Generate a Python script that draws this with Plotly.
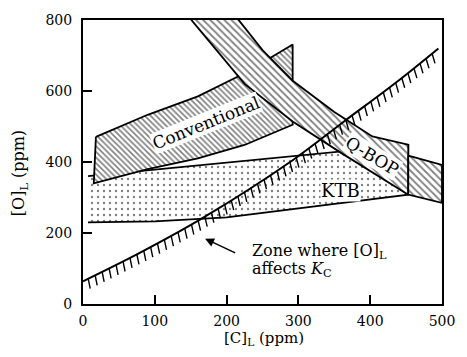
import numpy as np
import plotly.graph_objects as go

# ---------------- data ----------------
conv_top_c = [18, 90, 160, 225, 292]
conv_top_o = [471, 533, 585, 650, 731]
conv_bot_c = [15, 90, 160, 225, 292]
conv_bot_o = [340, 380, 410, 448, 505]

ktb_top_c = [7, 453]
ktb_top_o = [360, 448]
ktb_bot_c = [7, 100, 200, 300, 453]
ktb_bot_o = [230, 233, 244, 270, 308]

qbop_up_c = [205, 216, 250, 292, 350, 403, 453]
qbop_up_o = [850, 802, 715, 629, 541, 472, 449]
qbop_up2_c = [453, 500]
qbop_up2_o = [418, 392]
qbop_lo_c = [140, 151, 225, 292, 360, 453, 500]
qbop_lo_o = [850, 800, 620, 514, 425, 308, 285]

zone_c = [0, 79, 164, 292, 364, 436, 495]
zone_o = [64, 144, 239, 405, 515, 624, 720]

x_ticks = [0, 100, 200, 300, 400, 500]
y_ticks = [0, 200, 400, 600, 800]

FONT = "DejaVu Serif"

# plot-area geometry (pixels per unit) used for decoration ticks
L, R, T, B = 83, 14, 13, 53
W, H = 467, 357
sx = (W - L - R) / 500.0
sy = (H - T - B) / 800.0

fig = go.Figure()

# KTB box (dotted)
kx = ktb_top_c + [ktb_bot_c[-1]] + ktb_bot_c[::-1]
ky = ktb_top_o + [ktb_bot_o[-1]] + ktb_bot_o[::-1]
fig.add_trace(go.Scatter(x=kx, y=ky, mode="lines", fill="toself",
                         line=dict(color="black", width=1.8),
                         fillcolor="white",
                         fillpattern=dict(shape=".", size=6, solidity=0.12,
                                          fgcolor="black", bgcolor="white"),
                         hoverinfo="skip"))

# Conventional band
cx = conv_top_c + conv_bot_c[::-1] + [conv_top_c[0]]
cy = conv_top_o + conv_bot_o[::-1] + [conv_top_o[0]]
fig.add_trace(go.Scatter(x=cx, y=cy, mode="lines", fill="toself",
                         line=dict(color="black", width=1.8),
                         fillpattern=dict(shape="\\", size=4, solidity=0.4,
                                          fgcolor="black", bgcolor="white"),
                         hoverinfo="skip"))

# Q-BOP band (left part up to the vertical edge, then right part)
qx = qbop_up_c + qbop_lo_c[-2::-1] + [qbop_up_c[0]]
qy = qbop_up_o + qbop_lo_o[-2::-1] + [qbop_up_o[0]]
fig.add_trace(go.Scatter(x=qx, y=qy, mode="lines", fill="toself",
                         line=dict(color="black", width=1.8),
                         fillpattern=dict(shape="\\", size=5, solidity=0.35,
                                          fgcolor="black", bgcolor="white"),
                         hoverinfo="skip"))
q2x = qbop_up2_c + qbop_lo_c[-1:-3:-1] + [qbop_up2_c[0]]
q2y = qbop_up2_o + qbop_lo_o[-1:-3:-1] + [qbop_up2_o[0]]
fig.add_trace(go.Scatter(x=q2x, y=q2y, mode="lines", fill="toself",
                         line=dict(color="black", width=1.8),
                         fillpattern=dict(shape="\\", size=5, solidity=0.35,
                                          fgcolor="black", bgcolor="white"),
                         hoverinfo="skip"))

# Zone curve
fig.add_trace(go.Scatter(x=zone_c, y=zone_o, mode="lines",
                         line=dict(color="black", width=2, shape="spline"),
                         hoverinfo="skip"))

# hatch ticks hanging below the zone curve (decoration)
P = np.column_stack([np.array(zone_c) * sx, np.array(zone_o) * sy])
Pe = np.vstack([2 * P[0] - P[1], P, 2 * P[-1] - P[-2]])
dense = []
for i in range(1, len(Pe) - 2):
    p0, p1, p2, p3 = Pe[i - 1], Pe[i], Pe[i + 1], Pe[i + 2]
    for t in np.linspace(0, 1, 30, endpoint=False):
        t2, t3 = t * t, t * t * t
        dense.append(0.5 * ((2 * p1) + (-p0 + p2) * t +
                            (2 * p0 - 5 * p1 + 4 * p2 - p3) * t2 +
                            (-p0 + 3 * p1 - 3 * p2 + p3) * t3))
dense.append(P[-1])
dense = np.array(dense)
seg = np.hypot(*np.diff(dense, axis=0).T)
s = np.concatenate([[0], np.cumsum(seg)])
tx, ty = [], []
for sv in np.arange(6, s[-1] - 2, 8.0):
    j = np.searchsorted(s, sv) - 1
    j = max(0, min(j, len(seg) - 1))
    f = (sv - s[j]) / seg[j]
    pt = dense[j] + f * (dense[j + 1] - dense[j])
    tg = (dense[j + 1] - dense[j]) / seg[j]
    nrm = np.array([tg[1], -tg[0]])
    d = nrm + 1.3 * np.array([0.0, -1.0])
    d = d / np.hypot(*d) * 10.5
    e = pt + d
    tx += [pt[0] / sx, e[0] / sx, None]
    ty += [pt[1] / sy, e[1] / sy, None]
fig.add_trace(go.Scatter(x=tx, y=ty, mode="lines",
                         line=dict(color="black", width=1.4),
                         hoverinfo="skip"))

ann = []
ann.append(dict(x=171, y=511, xref="x", yref="y", text="Conventional",
                textangle=-22, showarrow=False, bgcolor="white", borderpad=0,
                font=dict(family=FONT, size=17, color="black")))
ann.append(dict(x=403, y=418, xref="x", yref="y", text="Q-BOP",
                textangle=31, showarrow=False, bgcolor="white", borderpad=0,
                font=dict(family=FONT, size=17, color="black")))
ann.append(dict(x=358, y=321, xref="x", yref="y", text="KTB",
                showarrow=False, bgcolor="white", borderpad=0,
                font=dict(family=FONT, size=18, color="black")))
ann.append(dict(x=232, y=148, xref="x", yref="y", xanchor="left",
                text="Zone where [O]<sub>L</sub>", showarrow=False,
                font=dict(family=FONT, size=16, color="black")))
ann.append(dict(x=232, y=96, xref="x", yref="y", xanchor="left",
                text="affects <i>K</i><sub>C</sub>", showarrow=False,
                font=dict(family=FONT, size=16, color="black")))
ann.append(dict(x=170, y=184, xref="x", yref="y", ax=214, ay=142,
                axref="x", ayref="y", text="", showarrow=True,
                arrowhead=2, arrowsize=1.2, arrowwidth=1.5, arrowcolor="black"))
ann.append(dict(x=0.505, y=-0.122, xref="paper", yref="paper",
                xanchor="center", yanchor="middle",
                text="[C]<sub>L</sub> (ppm)", showarrow=False,
                font=dict(family=FONT, size=15, color="black")))
ann.append(dict(x=-0.176, y=0.46, xref="paper", yref="paper",
                xanchor="center", yanchor="middle",
                text="[O]<sub>L</sub> (ppm)", textangle=-90, showarrow=False,
                font=dict(family=FONT, size=16, color="black")))

axis_common = dict(showline=True, linewidth=2, linecolor="black", mirror=True,
                   ticks="inside", ticklen=9, tickwidth=1.5, tickcolor="black",
                   showgrid=False, zeroline=False,
                   tickfont=dict(family=FONT, size=14, color="black"))

fig.update_layout(
    width=W, height=H,
    margin=dict(l=L, r=R, t=T, b=B),
    plot_bgcolor="white", paper_bgcolor="white",
    showlegend=False,
    xaxis=dict(range=[0, 500], tickvals=x_ticks, ticklabelstandoff=3, **axis_common),
    yaxis=dict(range=[0, 800], tickvals=y_ticks, ticklabelstandoff=6, **axis_common),
    annotations=ann,
)

fig.write_html("out.html")
